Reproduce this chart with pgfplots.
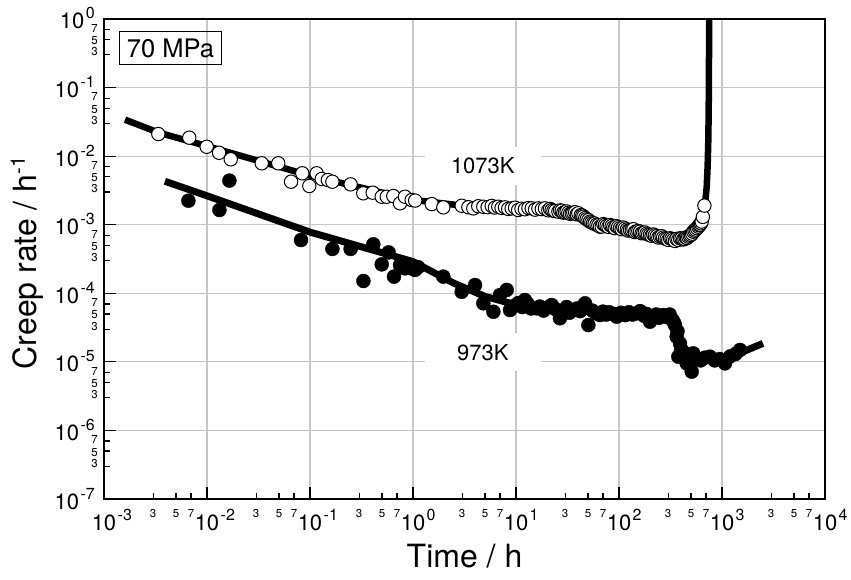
\documentclass[border=0pt]{standalone}
\usepackage{fontspec}
\setmainfont{TeX Gyre Heros}
\usepackage{pgfplots}
\usepackage{pgfplotstable}
\pgfplotsset{compat=1.18}

% font sizes
\newcommand\tickfont{\fontsize{22}{24}\selectfont}
\newcommand\expfont{\fontsize{16}{17}\selectfont}
\newcommand\minfont{\fontsize{11.5}{12}\selectfont}
\newcommand\labfont{\fontsize{32}{34}\selectfont}
% decade labels: on x the exponent does not count for centring
\newcommand\xdec[1]{10\rlap{\kern1.5pt\raisebox{10pt}{\expfont#1}}}
\newcommand\ydec[1]{10\kern1.5pt\raisebox{10pt}{\expfont#1}}
% labels of the 3-5-7 ticks, boxed tightly round the digit
\newcommand\xm[1]{\raisebox{13pt}[21.3pt][-13pt]{\minfont#1}}
\newcommand\ymseven[1]{\raisebox{7.3pt}[15.6pt][-7.3pt]{\minfont#1}\kern-3pt}
\newcommand\ymfive[1]{\raisebox{5pt}[13.3pt][-5pt]{\minfont#1}\kern-3pt}
\newcommand\ymthree[1]{\raisebox{9pt}[17.3pt][-9pt]{\minfont#1}\kern-3pt}

% 1073 K: creep rate (1/h) against time (h)
\pgfplotstableread{
t rate
3.37e-3 2.10e-2
6.73e-3 1.86e-2
9.93e-3 1.37e-2
1.31e-2 1.12e-2
1.70e-2 9.0e-3
3.40e-2 7.87e-3
4.92e-2 7.87e-3
6.55e-2 4.24e-3
8.42e-2 5.62e-3
9.85e-2 3.67e-3
0.116 5.62e-3
0.130 4.65e-3
0.149 4.49e-3
0.165 4.24e-3
0.248 3.88e-3
0.329 2.87e-3
0.406 2.93e-3
0.497 2.56e-3
0.556 2.56e-3
0.644 2.62e-3
0.748 2.05e-3
0.836 2.56e-3
0.971 2.29e-3
1.05 2.25e-3
1.52 2.00e-3
1.97 1.79e-3
2.97 1.89e-3
3.45 1.80e-3
3.85 1.73e-3
4.3 1.86e-3
4.81 1.83e-3
5.3 1.80e-3
5.81 1.88e-3
6.25 1.78e-3
6.73 1.83e-3
7.25 1.76e-3
7.82 1.79e-3
8.4 1.70e-3
9.08 1.73e-3
9.8 1.77e-3
10.5 1.64e-3
11.3 1.71e-3
12.2 1.68e-3
13.2 1.75e-3
14.2 1.73e-3
15.3 1.66e-3
16.5 1.73e-3
17.8 1.69e-3
19.1 1.73e-3
20.6 1.62e-3
21.4 1.70e-3
22.2 1.64e-3
23.1 1.60e-3
24.0 1.58e-3
25.8 1.55e-3
26.8 1.62e-3
27.8 1.60e-3
28.8 1.50e-3
29.9 1.52e-3
31.0 1.56e-3
32.2 1.49e-3
33.5 1.44e-3
34.8 1.47e-3
36.0 1.50e-3
37.5 1.52e-3
39.0 1.42e-3
40.3 1.47e-3
42.6 1.38e-3
44.0 1.36e-3
45.1 1.31e-3
47.0 1.25e-3
48.5 1.20e-3
50.5 1.17e-3
52.3 1.11e-3
54.0 1.08e-3
56.0 1.05e-3
58.0 1.04e-3
60.5 1.00e-3
63.0 9.8e-4
65.4 9.35e-4
68.0 9.4e-4
70.5 1.02e-3
73.0 9.9e-4
75.8 9.6e-4
79.0 9.3e-4
81.8 9.9e-4
85.0 9.6e-4
88.0 9.2e-4
91.0 8.9e-4
94.5 9.5e-4
98.0 9.2e-4
102 8.87e-4
106 8.6e-4
110 9.1e-4
114 8.8e-4
119 8.5e-4
123 8.2e-4
128 8.38e-4
133 8.4e-4
138 8.6e-4
143 7.8e-4
148 8.0e-4
154 8.1e-4
160 7.91e-4
166 7.5e-4
172 7.6e-4
178 7.7e-4
185 7.4e-4
192 7.2e-4
200 7.08e-4
207 6.9e-4
215 7.2e-4
223 7.0e-4
232 6.8e-4
241 6.5e-4
250 6.69e-4
259 6.8e-4
268 6.5e-4
279 6.3e-4
290 6.2e-4
301 6.0e-4
313 6.34e-4
324 6.2e-4
336 6.0e-4
349 5.8e-4
362 6.2e-4
376 6.0e-4
391 6.34e-4
405 6.3e-4
420 6.1e-4
432 6.2e-4
445 6.5e-4
458 6.4e-4
471 6.69e-4
486 6.9e-4
500 7.1e-4
513 7.4e-4
526 7.91e-4
541 8.2e-4
556 8.5e-4
572 8.9e-4
589 9.35e-4
600 9.8e-4
612 1.0e-3
624 1.05e-3
635 1.11e-3
652 1.3e-3
675 1.9e-3
}\hot

% 973 K
\pgfplotstableread{
t rate
6.6e-3 2.24e-3
1.32e-2 1.64e-3
1.65e-2 4.4e-3
0.0818 5.98e-4
0.165 4.43e-4
0.248 4.43e-4
0.33 1.51e-4
0.412 5.18e-4
0.497 2.64e-4
0.58 3.95e-4
0.654 1.75e-4
0.748 2.58e-4
0.836 2.31e-4
0.971 2.31e-4
1.045 2.19e-4
1.12 2.4e-4
1.97 1.75e-4
2.97 1.05e-4
4.0 1.32e-4
4.82 7.14e-5
6.03 5.38e-5
7.0 9.44e-5
8.13 1.12e-4
8.75 5.7e-5
9.5 6.5e-5
10.5 7.2e-5
11.5 6.3e-5
12.2 7.98e-5
13 7.0e-5
14 6.0e-5
15.9 6.04e-5
17 6.4e-5
18.5 5.6e-5
20 6.2e-5
22.2 6.75e-5
24 5.9e-5
26.7 4.32e-5
28 5.5e-5
31 6.3e-5
33 5.2e-5
36.0 5.7e-5
39 6.0e-5
42 5.5e-5
46.8 7.14e-5
50.4 3.44e-5
55 5.6e-5
60 5.1e-5
65.4 4.82e-5
70 5.4e-5
75 4.9e-5
80 5.3e-5
88 5.0e-5
95.1 4.56e-5
105 5.2e-5
115 4.8e-5
125 5.3e-5
135 4.9e-5
148.7 5.1e-5
160 5.5e-5
175 4.7e-5
185 5.0e-5
200 3.85e-5
215 4.6e-5
230 4.9e-5
245 4.4e-5
269 4.82e-5
290 4.5e-5
310 4.9e-5
330 4.1e-5
340 3.8e-5
350 3.44e-5
363 2.33e-5
370 2.8e-5
377 1.19e-5
391 1.86e-5
400 1.5e-5
420 1.15e-5
454 9.5e-6
470 1.05e-5
508 7.2e-6
526 1.33e-5
560 1.1e-5
620 1.05e-5
680 1.15e-5
764 1.19e-5
850 1.05e-5
950 1.1e-5
1069 9.5e-6
1200 1.2e-5
1350 1.3e-5
1496 1.49e-5
}\cold

\begin{document}
\begin{tikzpicture}
\path[use as bounding box] (-104pt,-81pt) rectangle (747pt,499pt);
\begin{axis}[
  at={(0,0)}, anchor=south west,
  scale only axis, width=721pt, height=480pt,
  xmode=log, ymode=log,
  xmin=1e-3, xmax=1e4, ymin=1e-7, ymax=1,
  axis line style={line width=1.2pt},
  tick align=inside, tick pos=left,
  major tick length=12pt,
  tick style={line width=1.2pt, black},
  xminorticks=false, yminorticks=false,
  grid=major, major grid style={line width=1.1pt, color=black!22},
  xtick={1e-3,1e-2,1e-1,1,10,100,1000,10000},
  xticklabels={\xdec{-3},\xdec{-2},\xdec{-1},\xdec{0},\xdec{1},\xdec{2},\xdec{3},\xdec{4}},
  ytick={1e-7,1e-6,1e-5,1e-4,1e-3,1e-2,1e-1,1},
  yticklabels={\ydec{-7},\ydec{-6},\ydec{-5},\ydec{-4},\ydec{-3},\ydec{-2},\ydec{-1},\ydec{0}},
  xticklabel style={font=\tickfont, anchor=base, yshift=-31pt, inner sep=0pt},
  yticklabel style={font=\tickfont, anchor=base east, xshift=-9pt, yshift=-10pt, inner sep=0pt},
  extra x ticks={3e-3,5e-3,7e-3,3e-2,5e-2,7e-2,0.3,0.5,0.7,3,5,7,30,50,70,300,500,700,3000,5000,7000},
  extra x tick labels={\xm{3},\xm{5},\xm{7},\xm{3},\xm{5},\xm{7},\xm{3},\xm{5},\xm{7},\xm{3},\xm{5},\xm{7},\xm{3},\xm{5},\xm{7},\xm{3},\xm{5},\xm{7},\xm{3},\xm{5},\xm{7}},
  extra x tick style={major tick length=6.5pt, grid=none},
  extra y ticks={3e-7,5e-7,7e-7,3e-6,5e-6,7e-6,3e-5,5e-5,7e-5,3e-4,5e-4,7e-4,3e-3,5e-3,7e-3,3e-2,5e-2,7e-2,0.3,0.5,0.7},
  extra y tick labels={\ymthree{3},\ymfive{5},\ymseven{7},\ymthree{3},\ymfive{5},\ymseven{7},\ymthree{3},\ymfive{5},\ymseven{7},\ymthree{3},\ymfive{5},\ymseven{7},\ymthree{3},\ymfive{5},\ymseven{7},\ymthree{3},\ymfive{5},\ymseven{7},\ymthree{3},\ymfive{5},\ymseven{7}},
  extra y tick style={major tick length=6.5pt, grid=none},
]
% 1073 K: fitted curve, then the measured rates
\addplot[black, line width=6.5pt, line join=round, no markers] coordinates {
  (1.6e-3,3.4e-2) (3.4e-3,2.2e-2) (1e-2,1.4e-2) (0.1,5.2e-3) (1,2.3e-3)
  (3,1.9e-3) (10,1.7e-3) (30,1.5e-3) (50,1.15e-3) (100,8.9e-4)
  (200,7.1e-4) (350,6.2e-4) (470,6.6e-4) (550,8.3e-4) (620,1.05e-3)
  (660,1.5e-3) (690,2.3e-3) (710,3.5e-3) (725,7e-3) (735,1.5e-2)
  (742,4e-2) (747,0.15) (750,1.3)};
\addplot[only marks, mark=*, mark size=6.7pt,
  mark options={fill=white, draw=black, line width=1pt}] table[x=t, y=rate] {\hot};
% 973 K
\addplot[black, line width=7pt, line join=round, no markers] coordinates {
  (3.9e-3,4.3e-3) (1e-2,2.64e-3) (0.1,7.8e-4) (1,2.9e-4) (2.5,1.4e-4)
  (5,9e-5) (10,6.8e-5) (30,6e-5) (100,5.5e-5) (200,5e-5) (300,4.4e-5)
  (360,3e-5) (420,1.7e-5) (500,1.25e-5) (700,1.1e-5) (1000,1.1e-5)
  (1500,1.35e-5) (2500,1.86e-5)};
\addplot[only marks, mark=*, mark size=7pt,
  mark options={fill=black, draw=black}] table[x=t, y=rate] {\cold};
\end{axis}
% annotations
\node[draw, line width=1.1pt, minimum width=102pt, minimum height=33pt, inner sep=0pt,
  font=\fontsize{25.5}{27}\selectfont] at (66.5pt,450.7pt) {70 MPa};
\node[fill=white, minimum width=116pt, minimum height=38pt, inner sep=0pt,
  font=\tickfont] at (378.8pt,333pt) {1073K};
\node[fill=white, minimum width=116pt, minimum height=38pt, inner sep=0pt,
  font=\tickfont] at (378.8pt,146.7pt) {973K};
% axis titles
\node[anchor=base, font=\labfont] at (360.5pt,-69pt) {Time / h};
\node[rotate=90, anchor=base, font=\labfont] at (-67pt,236pt)
  {Creep rate / h\raisebox{12pt}{\fontsize{20}{21}\selectfont -1}};
\end{tikzpicture}
\end{document}
